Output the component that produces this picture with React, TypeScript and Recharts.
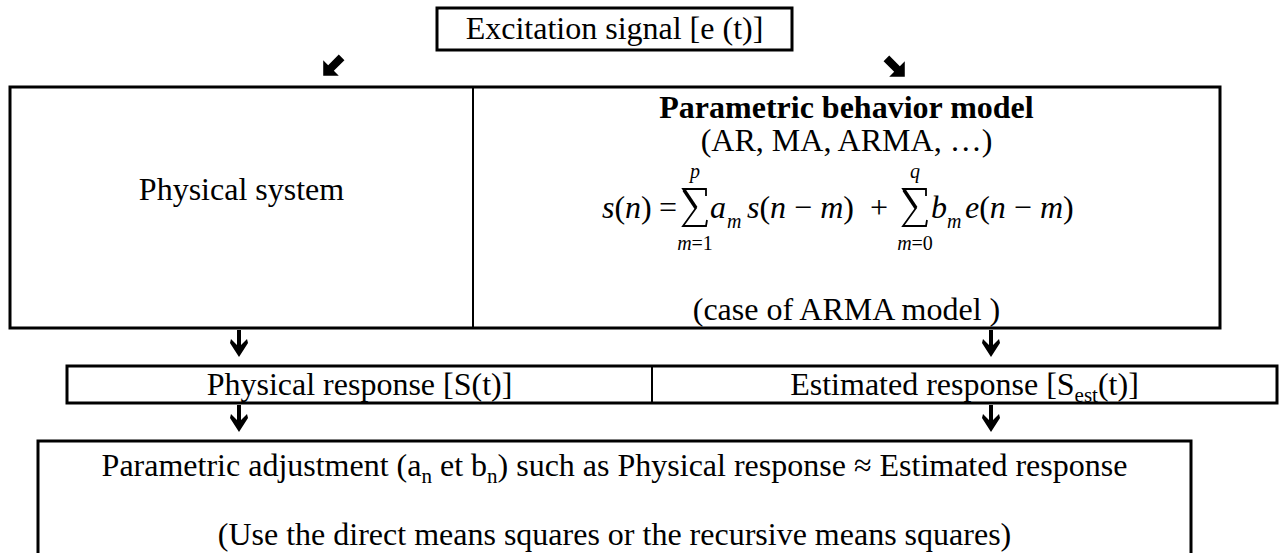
import { ComposedChart, XAxis, YAxis, Scatter, ReferenceArea, ReferenceLine } from "recharts";

const W = 1284;
const H = 553;
const FONT = "'Liberation Serif', 'Times New Roman', Times, serif";

// diagram frame, in page pixels (x1, x2, y1, y2)
const boxes = [
  { x1: 437, x2: 792, y1: 8, y2: 50 },
  { x1: 10, x2: 1220, y1: 87, y2: 328 },
  { x1: 67, x2: 1277, y1: 366, y2: 403 },
  { x1: 38, x2: 1191, y1: 441, y2: 580 },
];
const dividers = [
  { x: 473, y1: 87, y2: 328 },
  { x: 652, y1: 366, y2: 403 },
];

type Seg = string | { t: string; sub?: boolean };

const labels: { x: number; y: number; seg: Seg[]; bold?: boolean }[] = [
  { x: 614.5, y: 39, seg: ["Excitation signal [e (t)]"] },
  { x: 241.5, y: 200, seg: ["Physical system"] },
  { x: 846.5, y: 118, seg: ["Parametric behavior model"], bold: true },
  { x: 846.5, y: 151, seg: ["(AR, MA, ARMA, …)"] },
  { x: 846.5, y: 320, seg: ["(case of ARMA model )"] },
  { x: 359.5, y: 395, seg: ["Physical response [S(t)]"] },
  { x: 964.5, y: 395, seg: ["Estimated response [S", { t: "est", sub: true }, "(t)]"] },
  {
    x: 614.5,
    y: 476,
    seg: ["Parametric adjustment (a", { t: "n", sub: true }, " et b", { t: "n", sub: true }, ") such as Physical response ≈ Estimated response"],
  },
  { x: 614.5, y: 545, seg: ["(Use the direct means squares or the recursive means squares)"] },
];

// sums of the ARMA formula: offset of the sigma from the formula anchor, limits
const sums = [
  { dx: -151, top: "p", low: "1" },
  { dx: 69, top: "q", low: "0" },
];

const diagArrows = [
  { x: 331, y: 68, rot: 135 },
  { x: 897, y: 69, rot: 45 },
];
const downArrows = [
  { x: 239, y: 344 },
  { x: 991, y: 344 },
  { x: 239, y: 419 },
  { x: 991, y: 419 },
];
const formulaAt = [{ x: 846, y: 218 }];

function LabelShape(props: any) {
  const { cx, cy, payload } = props;
  let down = false;
  return (
    <text x={cx} y={cy} textAnchor="middle" fontFamily={FONT} fontSize={32} fontWeight={payload.bold ? 700 : 400} fill="#000">
      {payload.seg.map((s: Seg, i: number) => {
        if (typeof s === "string") {
          const dy = down ? -7 : 0;
          down = false;
          return <tspan key={i} dy={dy}>{s}</tspan>;
        }
        down = true;
        return <tspan key={i} dy={7} fontSize={21}>{s.t}</tspan>;
      })}
    </text>
  );
}

function DiagArrow(props: any) {
  const { cx, cy, payload } = props;
  return (
    <path
      d="M -15 -4 L 0 -4 L 0 -11 L 11 0 L 0 11 L 0 4 L -15 4 Z"
      transform={`translate(${cx},${cy}) rotate(${payload.rot})`}
      fill="#000"
    />
  );
}

function DownArrow(props: any) {
  const { cx, cy } = props;
  return (
    <path
      d="M -2 -14 L 2 -14 L 2 1 L 8 -5 L 9 -1 L 0 13 L -9 -1 L -8 -5 L -2 1 Z"
      transform={`translate(${cx},${cy})`}
      fill="#000"
    />
  );
}

function Formula(props: any) {
  const { cx, cy } = props;
  const it = (t: string) => <tspan fontStyle="italic">{t}</tspan>;
  return (
    <g fontFamily={FONT} fill="#000">
      <text x={cx - 244} y={cy} fontSize={32}>{it("s")}({it("n")})</text>
      <text x={cx - 187} y={cy} fontSize={32}>=</text>
      {sums.map((s, i) => {
        const x = cx + s.dx;
        return (
          <g key={i}>
            <path
              d={`M ${x + 11} ${cy - 22} L ${x + 11} ${cy - 29} L ${x - 12} ${cy - 29} L ${x + 1} ${cy - 10} L ${x - 12} ${cy + 8} L ${x + 11} ${cy + 8} L ${x + 12} ${cy + 2}`}
              stroke="#000"
              strokeWidth={1.8}
              fill="none"
            />
            <line x1={x - 11} y1={cy - 28} x2={x + 1} y2={cy - 10} stroke="#000" strokeWidth={3.5} />
            <text x={x} y={cy - 40} fontSize={20} textAnchor="middle">{it(s.top)}</text>
            <text x={x} y={cy + 32} fontSize={20} textAnchor="middle">{it("m")}={s.low}</text>
          </g>
        );
      })}
      <text x={cx - 136} y={cy} fontSize={32}>{it("a")}</text>
      <text x={cx - 119} y={cy + 10} fontSize={20}>{it("m")}</text>
      <text x={cx - 99} y={cy} fontSize={32}>{it("s")}({it("n")} − {it("m")})</text>
      <text x={cx + 24} y={cy} fontSize={32}>+</text>
      <text x={cx + 85} y={cy} fontSize={32}>{it("b")}</text>
      <text x={cx + 101} y={cy + 10} fontSize={20}>{it("m")}</text>
      <text x={cx + 119} y={cy} fontSize={32}>{it("e")}({it("n")} − {it("m")})</text>
    </g>
  );
}

export default function App() {
  return (
    <div style={{ position: "absolute", left: 0, top: 0, background: "#fff" }}>
      <ComposedChart width={W} height={H} margin={{ top: 0, right: 0, bottom: 0, left: 0 }}>
        <XAxis type="number" dataKey="x" domain={[0, W]} hide allowDataOverflow />
        <YAxis type="number" dataKey="y" domain={[0, H]} reversed hide allowDataOverflow />
        {boxes.map((b, i) => (
          <ReferenceArea
            key={i}
            x1={b.x1}
            x2={b.x2}
            y1={b.y1}
            y2={b.y2}
            fill="#fff"
            fillOpacity={0}
            stroke="#000"
            strokeWidth={3}
            strokeOpacity={1}
            ifOverflow="visible"
          />
        ))}
        {dividers.map((d, i) => (
          <ReferenceLine
            key={i}
            segment={[{ x: d.x, y: d.y1 }, { x: d.x, y: d.y2 }]}
            stroke="#000"
            strokeWidth={2}
            ifOverflow="visible"
          />
        ))}
        <Scatter data={labels} isAnimationActive={false} shape={(p: any) => <LabelShape {...p} />} />
        <Scatter data={formulaAt} isAnimationActive={false} shape={(p: any) => <Formula {...p} />} />
        <Scatter data={diagArrows} isAnimationActive={false} shape={(p: any) => <DiagArrow {...p} />} />
        <Scatter data={downArrows} isAnimationActive={false} shape={(p: any) => <DownArrow {...p} />} />
      </ComposedChart>
    </div>
  );
}
